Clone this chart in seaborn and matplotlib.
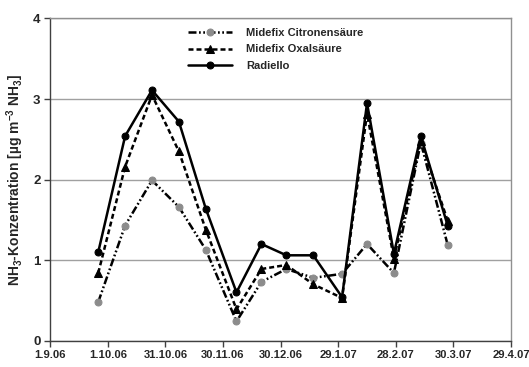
import matplotlib
matplotlib.use("Agg")
import matplotlib.pyplot as plt
import matplotlib.dates as mdates
import seaborn as sns
import pandas as pd
from datetime import datetime

# Sampling dates (end of each two-week exposure period)
dates = ["26.9.06", "10.10.06", "24.10.06", "7.11.06", "21.11.06", "7.12.06",
         "20.12.06", "2.1.07", "16.1.07", "31.1.07", "13.2.07", "27.2.07",
         "13.3.07", "27.3.07"]

# NH3 concentrations in µg m-3 NH3
citronensaeure = [0.48, 1.43, 1.99, 1.66, 1.13, 0.24, 0.73, 0.89, 0.78, 0.83,
                  1.20, 0.84, 2.46, 1.19]
oxalsaeure = [0.84, 2.16, 3.05, 2.35, 1.38, 0.39, 0.89, 0.94, 0.70, 0.53,
              2.82, 1.02, 2.48, 1.49]
radiello = [1.10, 2.54, 3.11, 2.72, 1.64, 0.60, 1.20, 1.06, 1.06, 0.54,
            2.95, 1.08, 2.54, 1.43]

series_names = ["Midefix Citronensäure", "Midefix Oxalsäure", "Radiello"]

tick_labels = ["1.9.06", "1.10.06", "31.10.06", "30.11.06", "30.12.06",
               "29.1.07", "28.2.07", "30.3.07", "29.4.07"]
y_ticks = [0, 1, 2, 3, 4]


def parse(s):
    return datetime.strptime(s, "%d.%m.%y")


x = [parse(d) for d in dates]
df = pd.DataFrame({
    "Datum": x * 3,
    "NH3": citronensaeure + oxalsaeure + radiello,
    "Messverfahren": [series_names[0]] * len(x) + [series_names[1]] * len(x)
                     + [series_names[2]] * len(x),
})

sns.set_theme(style="white")
plt.rcParams["font.family"] = ["Liberation Sans", "DejaVu Sans"]
plt.rcParams["mathtext.fontset"] = "custom"
plt.rcParams["mathtext.rm"] = "Liberation Sans:bold"
plt.rcParams["mathtext.bf"] = "Liberation Sans:bold"
plt.rcParams["mathtext.default"] = "regular"

fig = plt.figure(figsize=(5.29, 3.67), dpi=100)
ax = fig.add_axes([0.095, 0.0717, 0.871, 0.8779])

# dash patterns are in multiples of the line width
styles = {
    series_names[0]: dict(dashes=(3.2, 1.0, 0.7, 1.0, 0.7, 1.0), marker="o",
                          mfc="#8c8c8c", mec="#8c8c8c", ms=5),
    series_names[1]: dict(dashes=(2.0, 1.2), marker="^", mfc="black",
                          mec="black", ms=5.5),
    series_names[2]: dict(dashes=None, marker="o", mfc="black",
                          mec="black", ms=5),
}

for name in series_names:
    sub = df[df["Messverfahren"] == name]
    st = styles[name]
    sns.lineplot(data=sub, x="Datum", y="NH3", ax=ax, color="black",
                 linewidth=1.8, marker=st["marker"],
                 markerfacecolor=st["mfc"], markeredgecolor=st["mec"],
                 markersize=st["ms"], label=name, zorder=3)
    if st["dashes"] is not None:
        ax.get_lines()[-1].set_dashes(st["dashes"])

# Axes ranges and ticks
tick_dates = [parse(t) for t in tick_labels]
ax.set_xlim(tick_dates[0], tick_dates[-1])
ax.set_ylim(0, 4)
ax.set_xticks(mdates.date2num(tick_dates))
ax.set_xticklabels(tick_labels, fontsize=8.1, fontweight="bold")
ax.set_yticks(y_ticks)
ax.set_yticklabels([str(v) for v in y_ticks], fontsize=9.5, fontweight="bold")
ax.tick_params(axis="both", direction="out", length=4, width=1,
               color="#404040", pad=3, left=True, bottom=True)

ax.yaxis.grid(True, color="#a0a0a0", linewidth=1)
ax.xaxis.grid(False)
ax.set_axisbelow(True)

for side in ["top", "right"]:
    ax.spines[side].set_color("#909090")
    ax.spines[side].set_linewidth(1)
for side in ["left", "bottom"]:
    ax.spines[side].set_color("#404040")
    ax.spines[side].set_linewidth(1)

ax.set_xlabel("")
ax.set_ylabel("NH$_3$-Konzentration [µg m$^{-3}$ NH$_3$]", fontsize=10,
              fontweight="bold", labelpad=5)

# Legend
handles, labels = ax.get_legend_handles_labels()
for h, name in zip(handles, labels):
    st = styles[name]
    if st["dashes"] is not None:
        h.set_dashes(st["dashes"])
ax.legend(handles, labels, loc="upper left",
          bbox_to_anchor=(0.29, 0.985), frameon=False,
          prop={"weight": "bold", "size": 8}, handlelength=3.9,
          handletextpad=1.3, labelspacing=0.6, borderaxespad=0)

fig.savefig("out.png", dpi=100, facecolor="white")
